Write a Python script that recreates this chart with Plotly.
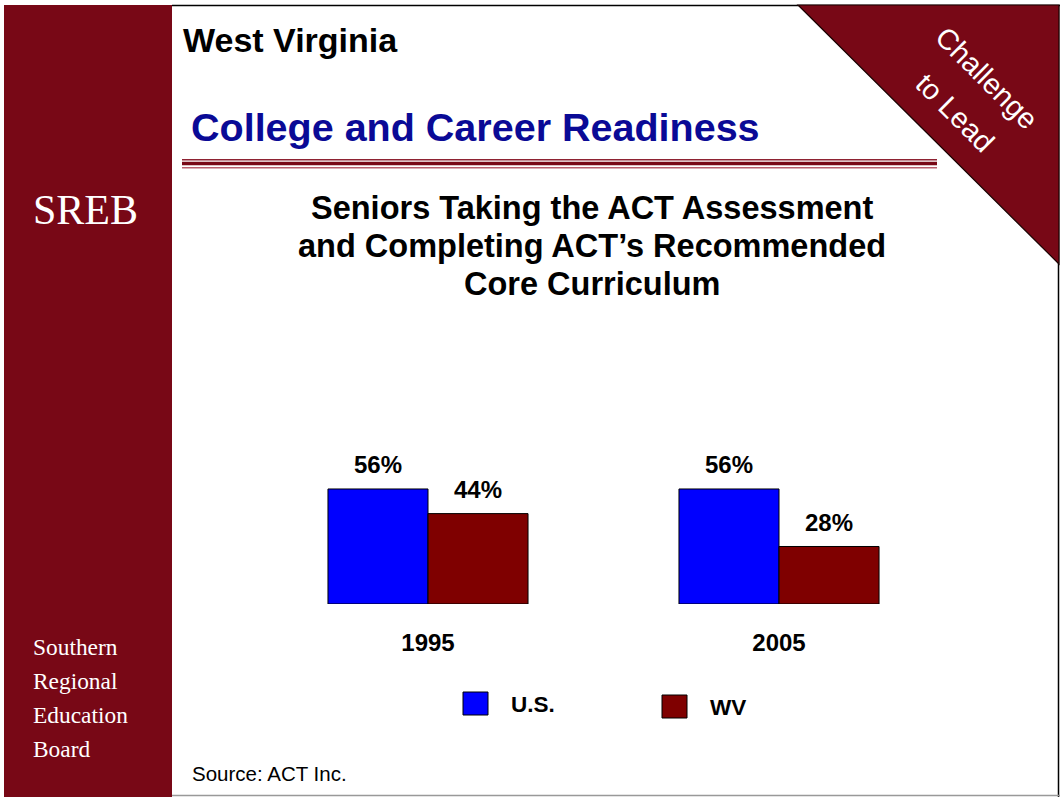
import plotly.graph_objects as go

# ---- data ----
years = ["1995", "2005"]
series_names = ["U.S.", "WV"]
us_values = [56, 56]
wv_values = [44, 28]
series_colors = ["#0000ff", "#7f0000"]

title_lines = ["Seniors Taking the ACT Assessment",
               "and Completing ACT’s Recommended",
               "Core Curriculum"]
sidebar_words = ["Southern", "Regional", "Education", "Board"]
corner_lines = ["Challenge", "to Lead"]

W, H = 1062, 797
SIDEBAR = "#780816"
SANS = "Liberation Sans, Arial, sans-serif"
SERIF = "Liberation Serif, Times New Roman, serif"


def px(x):
    return x / W


def py(y):
    return 1 - y / H


fig = go.Figure()
bar_w = 0.285
for name, vals, col, off in [(series_names[0], us_values, series_colors[0], -bar_w),
                             (series_names[1], wv_values, series_colors[1], 0.0)]:
    fig.add_trace(go.Bar(
        x=list(range(len(years))), y=vals, name=name, width=bar_w, offset=off,
        marker=dict(color=col, line=dict(color="#000000", width=1)),
        showlegend=False, hoverinfo="skip"))

shapes = []
# sidebar
shapes.append(dict(type="rect", xref="paper", yref="paper", x0=px(4), x1=px(172),
                   y0=py(797), y1=py(5), fillcolor=SIDEBAR, line=dict(width=0), layer="below"))
# top border line
shapes.append(dict(type="line", xref="paper", yref="paper", x0=px(172), x1=px(1060),
                   y0=py(5.5), y1=py(5.5), line=dict(color="#000000", width=1.5)))
# right border
shapes.append(dict(type="line", xref="paper", yref="paper", x0=px(1058.5), x1=px(1058.5),
                   y0=py(5), y1=py(797), line=dict(color="#000000", width=1.5)))
# bottom border
shapes.append(dict(type="line", xref="paper", yref="paper", x0=px(172), x1=px(1060),
                   y0=py(795.5), y1=py(795.5), line=dict(color="#999999", width=1.5)))
# corner triangle
shapes.append(dict(type="path", xref="paper", yref="paper",
                   path=f"M {px(798)} {py(5)} L {px(1059)} {py(5)} L {px(1059)} {py(264)} Z",
                   fillcolor=SIDEBAR, line=dict(color="#1a0000", width=1.2)))
# triple rule under heading
for yy, wdt, col in [(159.8, 1.6, "#8e2232"), (163.5, 3.6, "#780816"), (167.7, 1.6, "#b8606e")]:
    shapes.append(dict(type="line", xref="paper", yref="paper", x0=px(182), x1=px(937),
                       y0=py(yy), y1=py(yy), line=dict(color=col, width=wdt)))

annotations = []


def txt(text, x, y, size, color="#000000", family=SANS, xanchor="left", yanchor="middle", **kw):
    annotations.append(dict(text=text, x=px(x), y=py(y), xref="paper", yref="paper",
                            xanchor=xanchor, yanchor=yanchor, showarrow=False,
                            font=dict(size=size, color=color, family=family), **kw))


txt("<b>West Virginia</b>", 181, 40, 34)
txt("<b>College and Career Readiness</b>", 189, 127, 39.5, color="#0a0a96")
for i, line in enumerate(title_lines):
    txt(f"<b>{line}</b>", 592, 208 + i * 38, 32.5, xanchor="center")
for (cx, cy), line in zip([(986.5, 78.5), (955.5, 112.5)], corner_lines):
    txt(line, cx, cy, 29, color="#ffffff", xanchor="center", textangle=45)
txt("SREB", 31, 210, 42, color="#ffffff", family=SERIF)
for i, word in enumerate(sidebar_words):
    txt(word, 31, 647 + i * 34, 23.4, color="#ffffff", family=SERIF)
txt("Source: ACT Inc.", 190, 773, 20.5)

# value labels above bars (data coords)
for i in range(len(years)):
    for vals, dx in [(us_values, -bar_w / 2), (wv_values, bar_w / 2)]:
        annotations.append(dict(text=f"<b>{vals[i]}%</b>", x=i + dx, y=vals[i], xref="x", yref="y",
                                xanchor="center", yanchor="middle", yshift=24, showarrow=False,
                                font=dict(size=24, color="#000000", family=SANS)))

# legend (manual)
leg = [(463, 703), (662, 706)]
for (lx, ly), name, col in zip(leg, series_names, series_colors):
    shapes.append(dict(type="rect", xref="paper", yref="paper", x0=px(lx), x1=px(lx + 25),
                       y0=py(ly + 12), y1=py(ly - 11), fillcolor=col, line=dict(color="#000000", width=1)))
    txt(f"<b>{name}</b>", lx + 46, ly + 1, 22.5)

fig.update_layout(
    width=W, height=H, margin=dict(l=0, r=0, t=0, b=0),
    paper_bgcolor="#ffffff", plot_bgcolor="rgba(0,0,0,0)",
    showlegend=False, shapes=shapes, annotations=annotations,
    xaxis=dict(domain=[px(252.5), px(954.5)], range=[-0.5, 1.5], tickmode="array",
               tickvals=list(range(len(years))), ticktext=[f"<b>{y}</b>" for y in years],
               tickfont=dict(size=24, family=SANS, color="#000000"), ticks="",
               showgrid=False, zeroline=False, showline=False, ticklabelstandoff=22, fixedrange=True),
    yaxis=dict(domain=[py(604), py(398.6)], range=[0, 100], visible=False, fixedrange=True),
)

fig.write_html("out.html", config={"displayModeBar": False},
               post_script="document.body.style.margin='0px';document.body.style.overflow='hidden';")
